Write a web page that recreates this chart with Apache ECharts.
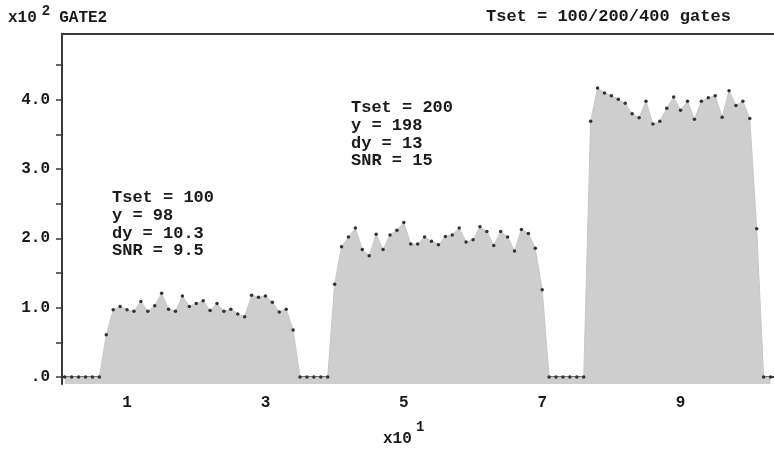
<!DOCTYPE html>
<html>
<head>
<meta charset="utf-8">
<script src="https://cdn.jsdelivr.net/npm/echarts@6/dist/echarts.min.js"></script>
<style>
html,body{margin:0;padding:0;background:#fff;}
#chart{width:774px;height:450px;}
</style>
</head>
<body>
<div id="chart"></div>
<script>
// ---- data (channel counts, units of 1) ----
const firstChannel = 1;
const baselineA = [0, 0, 0, 0, 0, 0];                       // ch 1-6
const tset100 = [61, 97, 102, 97, 95, 109, 95, 103, 121, 98, 95, 117, 102, 106,
                 110, 96, 106, 95, 98, 91, 87, 118, 115, 117, 108, 94, 98, 68]; // ch 7-34
const baselineB = [0, 0, 0, 0, 0];                          // ch 35-39
const tset200 = [134, 188, 202, 215, 184, 175, 206, 184, 205, 212, 223, 192, 192, 202,
                 196, 191, 203, 205, 215, 195, 198, 217, 210, 190, 210, 202, 182, 213,
                 207, 186, 126];                            // ch 40-70
const baselineC = [0, 0, 0, 0, 0, 0];                       // ch 71-76
const tset400 = [369, 417, 410, 406, 401, 395, 380, 374, 398, 365, 369, 388, 404, 385,
                 398, 372, 398, 403, 406, 375, 413, 392, 398, 373, 214]; // ch 77-101
const baselineD = [0, 0];                                   // ch 102-103

const xTicks = [10, 20, 30, 40, 50, 60, 70, 80, 90, 100];
const xTickLabels = [10, 30, 50, 70, 90];
const yTicks = [0, 50, 100, 150, 200, 250, 300, 350, 400, 450];
const yTickLabels = [0, 100, 200, 300, 400];

const annotation100 = ['Tset = 100', 'y = 98', 'dy = 10.3', 'SNR = 9.5'];
const annotation200 = ['Tset = 200', 'y = 198', 'dy = 13', 'SNR = 15'];

// ---- build ----
const counts = [].concat(baselineA, tset100, baselineB, tset200, baselineC, tset400, baselineD);
const seriesData = counts.map((v, i) => [firstChannel + i, v]);

const FONT = '"Liberation Mono", "DejaVu Sans Mono", monospace';
const TXT = '#1a1a1a';
const AX = '#3a3a3a';

const chart = echarts.init(document.getElementById('chart'), null, {renderer: 'canvas'});
chart.setOption({
  animation: false,
  backgroundColor: '#fff',
  grid: {left: 62, right: 0, top: 34, bottom: 66, containLabel: false},
  xAxis: [{
    type: 'value', min: 0.6, max: 103.5,
    axisLine: {show: true, lineStyle: {color: AX, width: 2}},
    axisTick: {show: true, customValues: xTicks, length: 7, lineStyle: {color: AX, width: 1.5}},
    axisLabel: {show: true, customValues: xTickLabels, margin: 11,
      formatter: v => String(v / 10),
      fontFamily: FONT, fontWeight: 'bold', fontSize: 16, color: TXT},
    splitLine: {show: false}
  }, {
    type: 'value', position: 'top', min: 0.6, max: 103.5,
    axisLine: {show: true, lineStyle: {color: AX, width: 2}},
    axisTick: {show: false}, axisLabel: {show: false}, splitLine: {show: false}
  }],
  yAxis: {
    type: 'value', min: -10, max: 495,
    axisLine: {show: true, lineStyle: {color: AX, width: 2}},
    axisTick: {show: true, customValues: yTicks, length: 6, lineStyle: {color: AX, width: 1.5}},
    axisLabel: {show: true, customValues: yTickLabels, margin: 12,
      formatter: v => v === 0 ? '.0' : (v / 100).toFixed(1),
      fontFamily: FONT, fontWeight: 'bold', fontSize: 16, color: TXT},
    splitLine: {show: false}
  },
  series: [{
    type: 'line',
    data: seriesData,
    xAxisIndex: 0,
    symbol: 'circle', symbolSize: 3.5, showAllSymbol: true,
    itemStyle: {color: '#333'},
    lineStyle: {color: '#c8c8c8', width: 1},
    areaStyle: {color: '#cecece', opacity: 1, origin: 'start'},
    z: 1
  }],
  graphic: [
    {type: 'text', left: 8, top: 4, style: {
      text: '{b|x10}{s|2}{b|GATE2}',
      rich: {
        b: {fontFamily: FONT, fontWeight: 'bold', fontSize: 16, fill: TXT, verticalAlign: 'bottom'},
        s: {fontFamily: FONT, fontWeight: 'bold', fontSize: 14, fill: TXT, verticalAlign: 'top', padding: [0, 9, 8, 5]}
      }}},
    {type: 'text', left: 486, top: 8, style: {
      text: 'Tset = 100/200/400 gates', fontFamily: FONT, fontWeight: 'bold', fontSize: 17, fill: TXT}},
    {type: 'text', left: 112, top: 189, style: {
      text: annotation100.join('\n'), fontFamily: FONT, fontWeight: 'bold', fontSize: 17,
      lineHeight: 17.7, fill: TXT}},
    {type: 'text', left: 351, top: 99, style: {
      text: annotation200.join('\n'), fontFamily: FONT, fontWeight: 'bold', fontSize: 17,
      lineHeight: 17.7, fill: TXT}},
    {type: 'text', left: 383, top: 431, style: {
      text: 'x10', fontFamily: FONT, fontWeight: 'bold', fontSize: 16, fill: TXT}},
    {type: 'text', left: 416, top: 420, style: {
      text: '1', fontFamily: FONT, fontWeight: 'bold', fontSize: 14, fill: TXT}}
  ]
});
</script>
</body>
</html>
